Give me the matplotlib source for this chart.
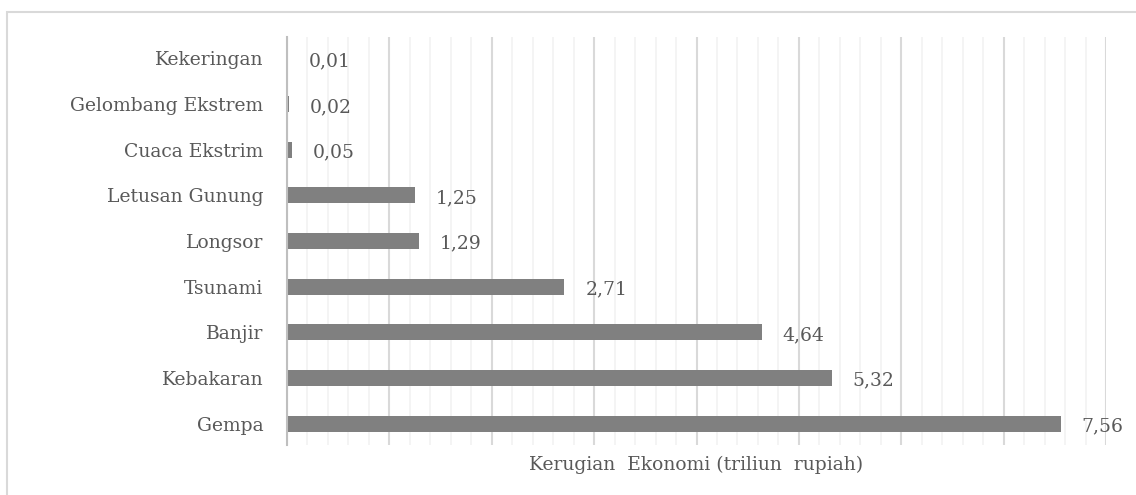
"""Kerugian ekonomi per jenis bencana (horizontal bar chart)."""

import matplotlib.pyplot as plt
from matplotlib.patches import Rectangle
from matplotlib.ticker import MultipleLocator

categories = [
    "Gempa",
    "Kebakaran",
    "Banjir",
    "Tsunami",
    "Longsor",
    "Letusan Gunung",
    "Cuaca Ekstrim",
    "Gelombang Ekstrem",
    "Kekeringan",
]
losses = [7.56, 5.32, 4.64, 2.71, 1.29, 1.25, 0.05, 0.02, 0.01]
value_labels = ["7,56", "5,32", "4,64", "2,71", "1,29", "1,25", "0,05", "0,02", "0,01"]
x_label = "Kerugian  Ekonomi (triliun  rupiah)"

TEXT = "#595959"
BAR = "#808080"
FS = 13.5

plt.rcParams["font.family"] = ["DejaVu Serif"]

fig = plt.figure(figsize=(11.36, 4.95), dpi=100)
ax = fig.add_axes([287 / 1136, 1 - 445 / 495, (1106 - 287) / 1136, (445 - 37) / 495])

y = list(range(len(categories)))
ax.barh(y, losses, height=0.35, color=BAR, zorder=3)

for yi, v, lab in zip(y, losses, value_labels):
    ax.annotate(lab, (v, yi), xytext=(15, -2), textcoords="offset points",
                va="center", ha="left", fontsize=FS, color=TEXT)

ax.set_xlim(0, 8)
ax.set_ylim(-0.47, len(categories) - 0.53)
ax.set_yticks(y, categories)
ax.tick_params(axis="y", length=0, pad=17, labelsize=FS, labelcolor=TEXT)
ax.xaxis.set_major_locator(MultipleLocator(1))
ax.xaxis.set_minor_locator(MultipleLocator(0.2))
ax.tick_params(axis="x", which="both", length=0, labelbottom=False)
ax.grid(axis="x", which="major", color="#d9d9d9", linewidth=1.5, zorder=0)
ax.grid(axis="x", which="minor", color="#f2f2f2", linewidth=1.2, zorder=0)
ax.grid(axis="y", visible=False)

for side in ["top", "right", "bottom"]:
    ax.spines[side].set_visible(False)
ax.spines["left"].set_color("#bfbfbf")
ax.spines["left"].set_linewidth(1.5)
ax.spines["left"].set_zorder(4)

ax.set_xlabel(x_label, fontsize=FS, color=TEXT, labelpad=8)

# outer chart border (cropped on the right and bottom)
fig.patches.append(Rectangle((7 / 1136, -0.1), 1.2, 1.1 - 12 / 495,
                             transform=fig.transFigure, fill=False,
                             edgecolor="#d9d9d9", linewidth=1.5))

fig.savefig("out.png", dpi=100)
